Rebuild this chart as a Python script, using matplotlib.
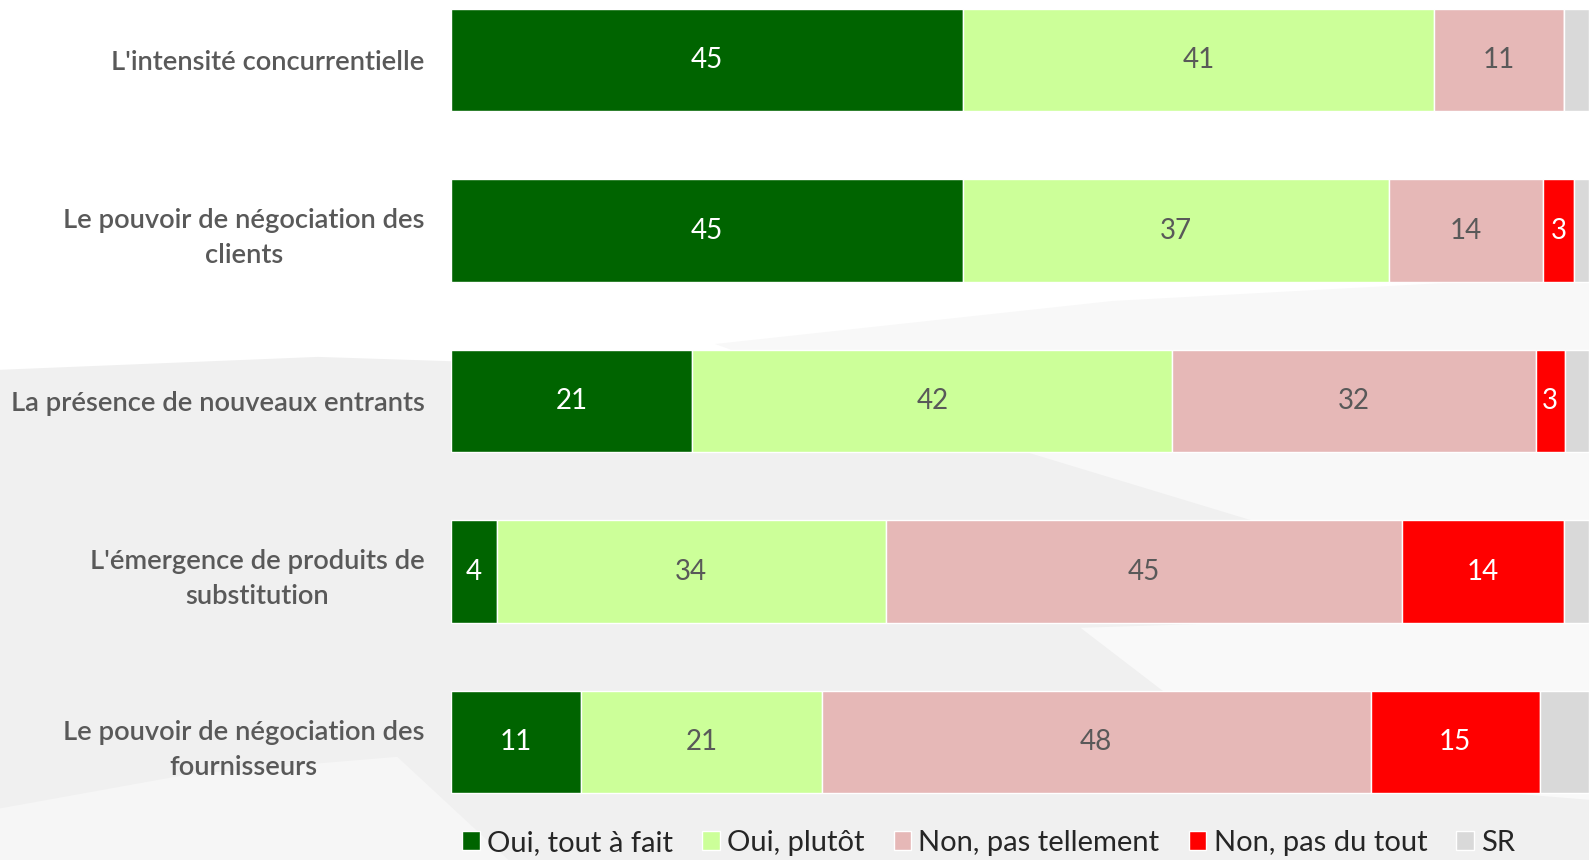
import matplotlib.pyplot as plt

plt.rcParams['font.family'] = ['Lato', 'DejaVu Sans']

categories = [
    "L'intensité concurrentielle",
    "Le pouvoir de négociation des\nclients",
    "La présence de nouveaux entrants",
    "L'émergence de produits de\nsubstitution",
    "Le pouvoir de négociation des\nfournisseurs",
]
series_names = ['Oui, tout à fait', 'Oui, plutôt', 'Non, pas tellement',
                'Non, pas du tout', 'SR']
oui_tout = [45.0, 45.0, 21.2, 4.0, 11.4]
oui_plutot = [41.4, 37.4, 42.2, 34.2, 21.2]
non_pas_tellement = [11.4, 13.6, 31.9, 45.4, 48.2]
non_pas_du_tout = [0.0, 2.7, 2.6, 14.2, 14.9]
sr = [2.2, 1.3, 2.1, 2.2, 4.3]

series = [oui_tout, oui_plutot, non_pas_tellement, non_pas_du_tout, sr]
colors = ['#006400', '#CCFF99', '#E6B8B7', '#FF0000', '#D9D9D9']
text_colors = ['white', '#595959', '#595959', 'white', None]

fig = plt.figure(figsize=(15.89, 8.6), dpi=100)
fig.patch.set_facecolor('white')

# subtle grey swooshes behind the chart
bg = fig.add_axes([0, 0, 1, 1], zorder=-1)
bg.set_xlim(0, 1)
bg.set_ylim(0, 1)
bg.axis('off')
bg.fill([0, 0.2, 0.45, 0.7, 1, 1, 0], [0.57, 0.585, 0.57, 0.54, 0.49, 0, 0],
        color='#F0F0F0', lw=0)
bg.fill([0.45, 0.7, 1, 1, 0.85, 0.6], [0.6, 0.65, 0.68, 0.3, 0.36, 0.5],
        color='#F8F8F8', lw=0)
bg.fill([0.68, 0.85, 1, 1, 0.8], [0.27, 0.28, 0.3, 0.07, 0.1],
        color='#F9F9F9', lw=0)
bg.fill([0, 0.12, 0.25, 0.32, 0], [0.06, 0.1, 0.12, 0, 0],
        color='#F6F6F6', lw=0)

ax = fig.add_axes([451 / 1589, 60 / 860, (1589 - 451) / 1589, 800 / 860])
ax.set_facecolor('none')

y = list(range(len(categories)))
left = [0] * len(categories)
for vals, name, col, tcol in zip(series, series_names, colors, text_colors):
    bars = ax.barh(y, vals, left=left, height=0.6, color=col, label=name,
                   edgecolor='white', linewidth=1)
    if tcol is not None:
        for b, v in zip(bars, vals):
            if v > 0.5:
                ax.text(b.get_x() + b.get_width() / 2, b.get_y() + b.get_height() / 2,
                        str(round(v)), ha='center', va='center', color=tcol,
                        fontsize=20)
    left = [l + v for l, v in zip(left, vals)]

ax.set_xlim(0, 100)
ax.set_ylim(4 + 0.34, -0.352)
ax.set_xticks([])
ax.set_yticks(y)
ax.set_yticklabels(categories, fontsize=19.7, color='#595959', fontweight='semibold',
                   linespacing=1.5)
for lab in ax.get_yticklabels():
    lab.set_multialignment('center')
ax.tick_params(axis='y', length=0, pad=19)
for s in ax.spines.values():
    s.set_visible(False)

leg = fig.legend(loc='center left', bbox_to_anchor=(436 / 1589, 1 - 843 / 860),
                 ncol=5, frameon=False, fontsize=21, handlelength=0.6,
                 handleheight=0.6, handletextpad=0.25, columnspacing=1.0,
                 labelcolor='#262626')

fig.savefig('out.png', dpi=100, facecolor=fig.get_facecolor())
